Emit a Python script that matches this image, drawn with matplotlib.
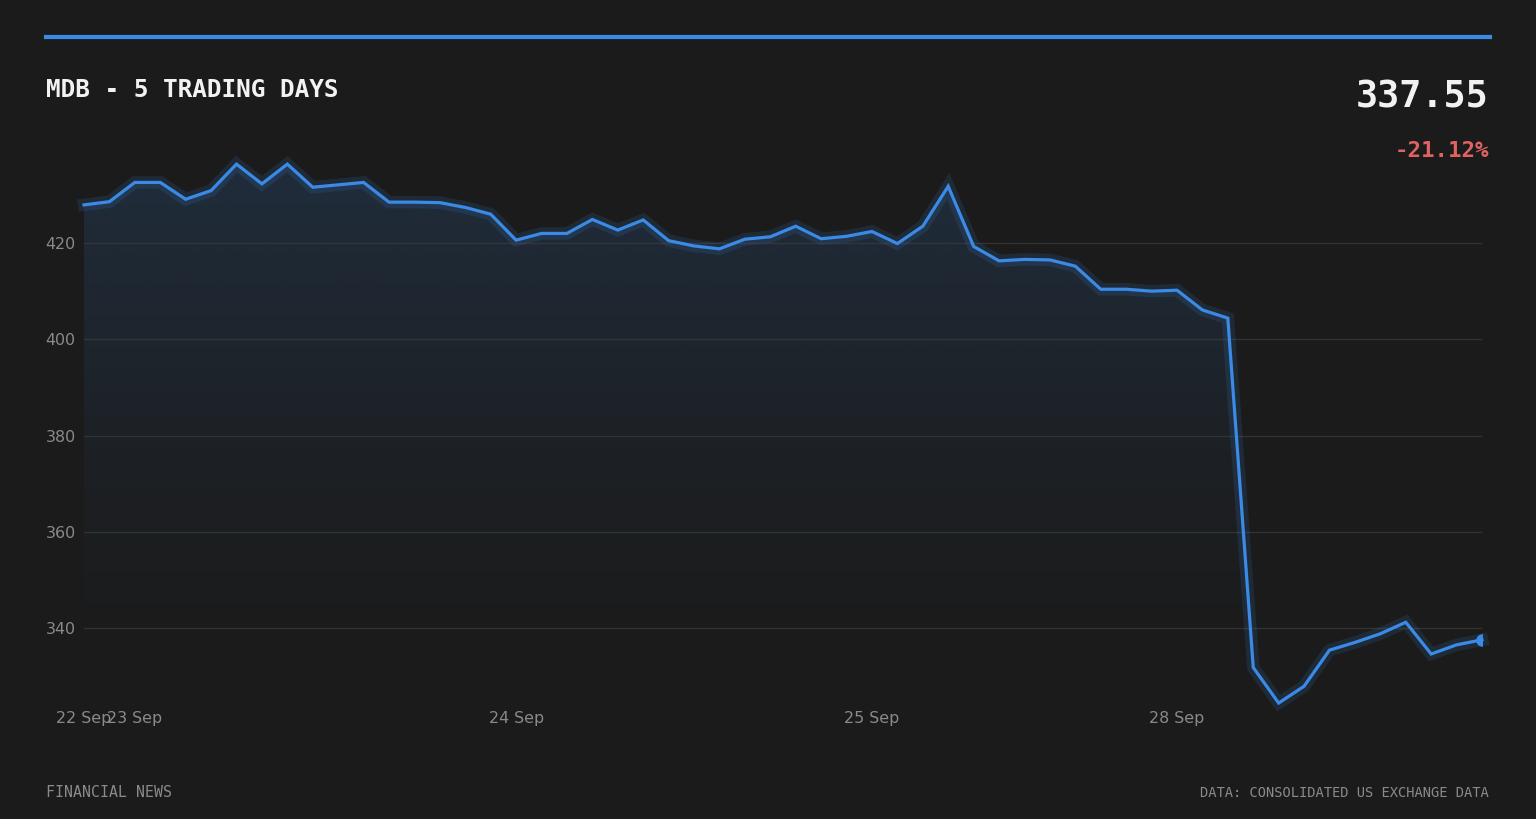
import numpy as np
import matplotlib.pyplot as plt
from matplotlib.lines import Line2D

# MDB close prices, 5 trading days
prices = [427.93, 428.6, 432.6, 432.6, 429.1, 430.9, 436.4, 432.3, 436.4, 431.6,
          432.1, 432.6, 428.5, 428.5, 428.4, 427.4, 426.0, 420.6, 422.0, 422.0,
          424.9, 422.7, 424.8, 420.5, 419.4, 418.8, 420.8, 421.3, 423.5, 420.9,
          421.4, 422.4, 419.9, 423.5, 431.8, 419.3, 416.3, 416.6, 416.5, 415.2,
          410.4, 410.4, 410.0, 410.2, 406.1, 404.4, 331.8, 324.4, 327.9, 335.4,
          337.0, 338.8, 341.2, 334.6, 336.5, 337.55]
tick_pos = [0, 2, 17, 31, 43]
tick_labels = ["22 Sep", "23 Sep", "24 Sep", "25 Sep", "28 Sep"]
y_ticks = [340, 360, 380, 400, 420]

ticker = "MDB"
last_price = prices[-1]
pct_change = (prices[-1] - prices[0]) / prices[0] * 100

BG = '#1b1b1b'
BLUE = '#3b8ae6'
GREY = '#8a8a8a'
W, H = 1536, 819

fig = plt.figure(figsize=(W / 100, H / 100), dpi=100, facecolor=BG)
ax = fig.add_axes([84 / W, (H - 673) / H, (1482 - 84) / W, (673 - 142) / H])
ax.set_facecolor(BG)

x = np.arange(len(prices))
y = np.array(prices)
ymin, ymax = 330.65, 441
ax.set_xlim(0, len(prices) - 1)
ax.set_ylim(ymin, ymax)

# gradient fill under the line
poly = ax.fill_between(x, y, ymin, color='none', lw=0)
grad = np.linspace(0, 1, 256).reshape(-1, 1)
rgba = np.zeros((256, 1, 4))
rgba[..., :3] = plt.matplotlib.colors.to_rgb(BLUE)
rgba[..., 3] = 0.17 * grad ** 1.3
img = ax.imshow(rgba, aspect='auto', origin='lower',
                extent=[0, len(prices) - 1, ymin, ymax], zorder=1)
img.set_clip_path(poly.get_paths()[0], transform=ax.transData)

# grid
for v in y_ticks:
    ax.axhline(v, color='#3a3a3a', lw=1, alpha=0.75, zorder=2)

# glow + line
ax.plot(x, y, color=BLUE, lw=9, alpha=0.14, solid_joinstyle='miter',
        clip_on=False, zorder=3)
ax.plot(x, y, color=BLUE, lw=2.3, solid_joinstyle='miter',
        clip_on=False, zorder=4)
ax.plot(x[-1], y[-1], 'o', color=BLUE, ms=8, zorder=5)

ax.set_xticks(tick_pos)
ax.set_xticklabels(tick_labels)
ax.set_yticks(y_ticks)
ax.tick_params(axis='both', length=0, colors=GREY, labelsize=11.4)
ax.tick_params(axis='x', pad=27)
ax.tick_params(axis='y', pad=6)
for s in ax.spines.values():
    s.set_visible(False)

# header / footer
fig.add_artist(Line2D([46 / W, 1490 / W], [1 - 37 / H, 1 - 37 / H],
                      color=BLUE, lw=3))
mono = 'DejaVu Sans Mono'
fig.text(46 / W, 1 - 97 / H, f"{ticker} - 5 TRADING DAYS", family=mono,
         weight='bold', fontsize=17.6, color='#f2f2f2', va='baseline')
fig.text(1489 / W, 1 - 107 / H, f"{last_price:.2f}", family=mono,
         weight='bold', fontsize=26.5, color='#f2f2f2', va='baseline', ha='right')
fig.text(1489 / W, 1 - 157 / H, f"{pct_change:+.2f}%", family=mono,
         weight='bold', fontsize=16.2, color='#e06262', va='baseline', ha='right')
fig.text(46 / W, 1 - 797 / H, "FINANCIAL NEWS", family=mono,
         fontsize=10.7, color=GREY, va='baseline')
fig.text(1489 / W, 1 - 797 / H, "DATA: CONSOLIDATED US EXCHANGE DATA",
         family=mono, fontsize=9.9, color=GREY, va='baseline', ha='right')

fig.savefig('out.png', dpi=100, facecolor=BG)
